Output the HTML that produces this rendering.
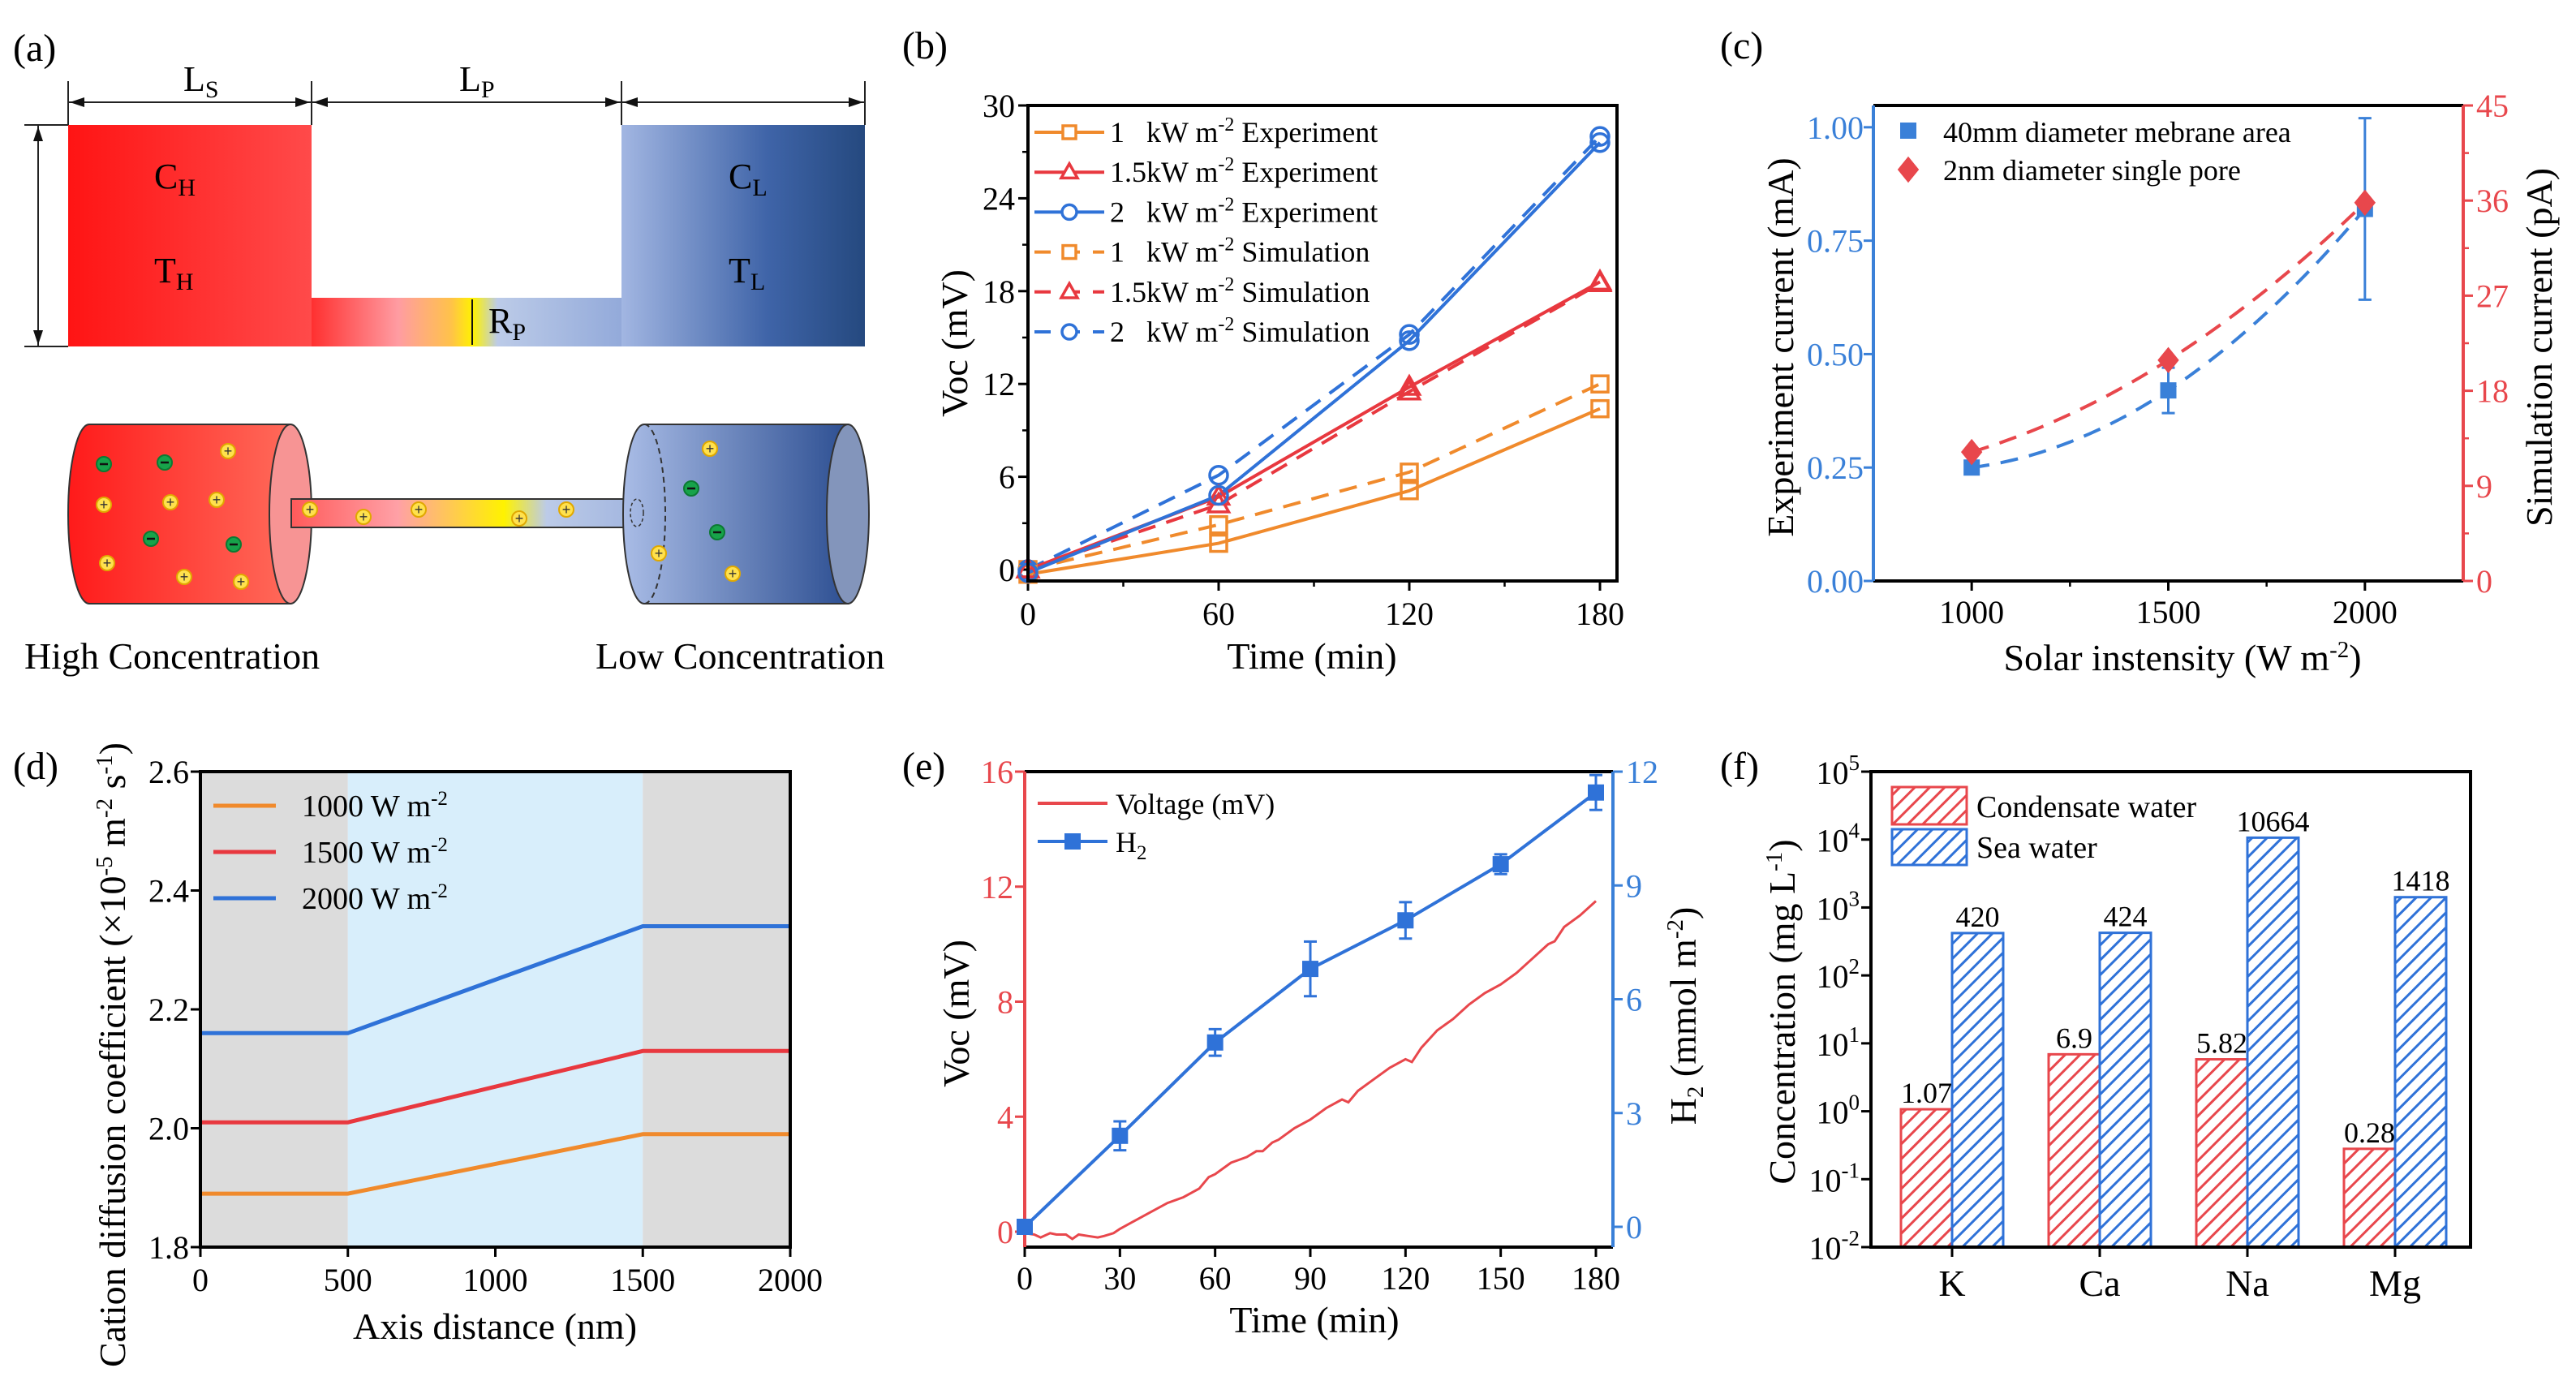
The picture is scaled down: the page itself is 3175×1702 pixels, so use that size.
<!DOCTYPE html>
<html><head><meta charset="utf-8"><style>
html,body{margin:0;padding:0;background:#fff;}
svg{display:block;font-family:"Liberation Serif",serif;}
</style></head><body>
<svg id="fig" width="3175" height="1702" viewBox="0 0 3175 1702" xmlns="http://www.w3.org/2000/svg">
<defs>
<linearGradient id="gRed" x1="0" x2="1" y1="0" y2="0"><stop offset="0" stop-color="#ff1414"/><stop offset="1" stop-color="#ff4a4a"/></linearGradient>
<linearGradient id="gBlue" x1="0" x2="1" y1="0" y2="0"><stop offset="0" stop-color="#a2b6e2"/><stop offset="0.6" stop-color="#3f64a8"/><stop offset="1" stop-color="#25497f"/></linearGradient>
<linearGradient id="gChan" gradientUnits="userSpaceOnUse" x1="384" x2="766" y1="0" y2="0"><stop offset="0" stop-color="#ff3030"/><stop offset="0.28" stop-color="#ff9ca2"/><stop offset="0.45" stop-color="#ffc24a"/><stop offset="0.52" stop-color="#fff200"/><stop offset="0.6" stop-color="#bccbe8"/><stop offset="1" stop-color="#93aada"/></linearGradient>
<linearGradient id="gTube" gradientUnits="userSpaceOnUse" x1="359" x2="796" y1="0" y2="0"><stop offset="0" stop-color="#ff5a5a"/><stop offset="0.3" stop-color="#ffa0a6"/><stop offset="0.6" stop-color="#fff200"/><stop offset="0.72" stop-color="#bccbe8"/><stop offset="1" stop-color="#9fb3de"/></linearGradient>
<linearGradient id="gCylR" x1="0" x2="1" y1="0" y2="0"><stop offset="0" stop-color="#ff1a1a"/><stop offset="1" stop-color="#ff6a5a"/></linearGradient>
<linearGradient id="gCylB" x1="0" x2="1" y1="0" y2="0"><stop offset="0" stop-color="#a9bce6"/><stop offset="1" stop-color="#2d4f92"/></linearGradient>
<pattern id="hatchR" patternUnits="userSpaceOnUse" width="13" height="13" patternTransform="rotate(45)"><rect width="13" height="13" fill="#fff"/><line x1="2" y1="0" x2="2" y2="13" stroke="#e8474c" stroke-width="3"/></pattern>
<pattern id="hatchB" patternUnits="userSpaceOnUse" width="13" height="13" patternTransform="rotate(45)"><rect width="13" height="13" fill="#fff"/><line x1="2" y1="0" x2="2" y2="13" stroke="#2f72d8" stroke-width="3"/></pattern>
</defs>

<g>
<text x="16" y="75" font-size="48">(a)</text>
<g stroke="#222" stroke-width="2">
<line x1="84" y1="100" x2="84" y2="154"/><line x1="384" y1="100" x2="384" y2="154"/><line x1="766" y1="100" x2="766" y2="154"/><line x1="1066" y1="100" x2="1066" y2="154"/>
<line x1="84" y1="126" x2="1066" y2="126"/>
<line x1="30" y1="154" x2="84" y2="154"/><line x1="30" y1="427" x2="84" y2="427"/><line x1="47" y1="154" x2="47" y2="427"/>
<line x1="582" y1="369" x2="582" y2="425"/>
</g>
<g fill="#111">
<polygon points="86,126 104,120 104,132"/><polygon points="382,126 364,120 364,132"/><polygon points="386,126 404,120 404,132"/><polygon points="764,126 746,120 746,132"/><polygon points="768,126 786,120 786,132"/><polygon points="1064,126 1046,120 1046,132"/>
<polygon points="47,156 41,174 53,174"/><polygon points="47,425 41,407 53,407"/>
<polygon points="582,369 577,381 587,381"/><polygon points="582,425 577,413 587,413"/>
</g>
<text x="226" y="112" font-size="44">L<tspan dy="8" font-size="30">S</tspan></text>
<text x="566" y="112" font-size="44">L<tspan dy="8" font-size="30">P</tspan></text>
<rect x="84" y="154" width="300" height="273" fill="url(#gRed)"/>
<rect x="384" y="367" width="382" height="60" fill="url(#gChan)"/>
<rect x="766" y="154" width="300" height="273" fill="url(#gBlue)"/>
<line x1="582" y1="369" x2="582" y2="425" stroke="#111" stroke-width="2"/>
<text x="190" y="232" font-size="44">C<tspan dy="9" font-size="30">H</tspan></text>
<text x="190" y="348" font-size="44">T<tspan dy="9" font-size="30">H</tspan></text>
<text x="898" y="232" font-size="44">C<tspan dy="9" font-size="30">L</tspan></text>
<text x="898" y="348" font-size="44">T<tspan dy="9" font-size="30">L</tspan></text>
<text x="602" y="410" font-size="44">R<tspan dy="9" font-size="30">P</tspan></text>
<path d="M110,523 L358,523 L358,744 L110,744 A26,110.5 0 0 1 110,523 Z" fill="url(#gCylR)" stroke="#333" stroke-width="2"/>
<ellipse cx="358" cy="633.5" rx="26" ry="110.5" fill="#f79494" stroke="#333" stroke-width="2"/>
<rect x="359" y="615" width="437" height="35" fill="url(#gTube)" stroke="#333" stroke-width="2"/>
<path d="M794,523 L1045,523 L1045,744 L794,744 A26,110.5 0 0 1 794,523 Z" fill="url(#gCylB)" stroke="#333" stroke-width="2"/>
<ellipse cx="1045" cy="633.5" rx="26" ry="110.5" fill="#8395bb" stroke="#333" stroke-width="2"/>
<path d="M794,523 A26,110.5 0 0 1 794,744" fill="none" stroke="#333" stroke-width="2" stroke-dasharray="7,5"/>
<ellipse cx="785" cy="632" rx="8" ry="17" fill="none" stroke="#333" stroke-width="1.5" stroke-dasharray="4,3"/>
<g id="ions"></g>
<text x="30" y="824" font-size="46">High Concentration</text>
<text x="734" y="824" font-size="46">Low Concentration</text>
</g>

<text x="1112" y="72" font-size="48">(b)</text>
<text x="2120" y="72" font-size="48">(c)</text>
<text x="16" y="960" font-size="48">(d)</text>
<text x="1112" y="960" font-size="48">(e)</text>
<text x="2120" y="960" font-size="48">(f)</text>

<g id="pb"></g>
<g id="pc"></g>
<g id="pd"></g>
<g id="pe"></g>
<g id="pf"></g>
</svg>
<script>
const bTimes=[0,60,120,180];
const bExp1=[-0.3,1.7,5.1,10.4];
const bExp15=[0,4.7,11.8,18.6];
const bExp2=[-0.2,4.8,14.8,27.6];
const bSim1=[0,2.9,6.3,12.0];
const bSim15=[0,4.2,11.5,18.5];
const bSim2=[0,6.1,15.2,28.0];
const bYTicks=[0,6,12,18,24,30];
const bXTicks=[0,60,120,180];

const cX=[1000,1500,2000];
const cExp=[0.25,0.42,0.82];
const cErr=[0.01,0.05,0.2];
const cSim=[12.2,20.9,35.8];
const cLeftTicks=[0,0.25,0.5,0.75,1.0];
const cRightTicks=[0,9,18,27,36,45];
const cXTicks=[1000,1500,2000];

const dX=[0,500,1500,2000];
const d1000=[1.89,1.89,1.99,1.99];
const d1500=[2.01,2.01,2.13,2.13];
const d2000=[2.16,2.16,2.34,2.34];
const dYTicks=[1.8,2.0,2.2,2.4,2.6];
const dXTicks=[0,500,1000,1500,2000];

const eVt=[0,3,5,8,10,13,15,17,20,23,25,28,30,35,40,45,50,55,58,60,65,70,73,75,78,80,85,90,95,100,102,105,110,115,120,122,125,130,135,140,145,150,155,160,165,167,170,175,180];
const eVv=[-0.05,-0.1,-0.2,-0.05,-0.1,-0.1,-0.25,-0.1,-0.15,-0.2,-0.15,-0.05,0.1,0.4,0.7,1.0,1.2,1.5,1.9,2.0,2.4,2.6,2.8,2.8,3.1,3.2,3.6,3.9,4.3,4.6,4.5,4.9,5.3,5.7,6.0,5.9,6.4,7.0,7.4,7.9,8.3,8.6,9.0,9.5,10.0,10.1,10.6,11.0,11.5];
const eHt=[0,30,60,90,120,150,180];
const eH=[0,2.4,4.86,6.8,8.08,9.56,11.45];
const eHerr=[0,0.38,0.35,0.72,0.48,0.26,0.46];
const eLeftTicks=[0,4,8,12,16];
const eRightTicks=[0,3,6,9,12];
const eXTicks=[0,30,60,90,120,150,180];

const fCat=['K','Ca','Na','Mg'];
const fCond=[1.07,6.9,5.82,0.28];
const fSea=[420,424,10664,1418];
const fCondLbl=['1.07','6.9','5.82','0.28'];
const fSeaLbl=['420','424','10664','1418'];
const fExp=[-2,-1,0,1,2,3,4,5];

const NS='http://www.w3.org/2000/svg';
function el(parent,tag,attrs,name){
  const e=document.createElementNS(NS,tag);
  for(const k in attrs) e.setAttribute(k,attrs[k]);
  
  
  parent.appendChild(e);
  return e;
}
function txt(parent,x,y,s,attrs,name){
  const t=el(parent,'text',Object.assign({x:x,y:y},attrs),name);
  t.textContent=s;
  return t;
}
function lin(d0,d1,r0,r1){return v=>r0+(v-d0)*(r1-r0)/(d1-d0);}
function poly(xs,ys,sx,sy){return xs.map((x,i)=>sx(x).toFixed(1)+','+sy(ys[i]).toFixed(1)).join(' ');}
function marker(g,type,x,y,color,fill,size,name){
  if(type==='square') return el(g,'rect',{x:x-size,y:y-size,width:2*size,height:2*size,fill:fill,stroke:color,'stroke-width':3.5},name);
  if(type==='circle') return el(g,'circle',{cx:x,cy:y,r:size+1,fill:fill,stroke:color,'stroke-width':3.5},name);
  if(type==='triangle') return el(g,'polygon',{points:(x)+','+(y-size*1.3)+' '+(x-size*1.25)+','+(y+size*0.9)+' '+(x+size*1.25)+','+(y+size*0.9),fill:fill,stroke:color,'stroke-width':3.5},name);
  if(type==='diamond') return el(g,'polygon',{points:x+','+(y-size*1.35)+' '+(x+size*1.1)+','+y+' '+x+','+(y+size*1.35)+' '+(x-size*1.1)+','+y,fill:fill,stroke:'none'},name);
}

const TICK=40, TITLE=46, LEG=36;

const ionsG=document.getElementById('ions');
const plusPos=[[281,556],[128,622],[210,619],[267,616],[132,694],[227,711],[297,717],[382,628],[448,637],[516,628],[640,639],[698,628],[875,553],[812,682],[903,707]];
const minusPos=[[128,572],[203,570],[186,664],[288,671],[852,602],[884,656]];
plusPos.forEach(p=>{
  el(ionsG,'circle',{cx:p[0],cy:p[1],r:9,fill:'#ffe14d',stroke:'#e0a800','stroke-width':2},'cation');
  txt(ionsG,p[0],p[1]+6,'+',{'font-size':18,'text-anchor':'middle','font-family':'Liberation Sans, sans-serif',fill:'#333'},'cation-sign');
});
minusPos.forEach(p=>{
  el(ionsG,'circle',{cx:p[0],cy:p[1],r:9,fill:'#17a34a',stroke:'#0c7a33','stroke-width':2},'anion');
  el(ionsG,'line',{x1:p[0]-5,y1:p[1],x2:p[0]+5,y2:p[1],stroke:'#111','stroke-width':2.5},'anion-sign');
});

const ORANGE='#f08a2c', RED='#e8383f', BLUE='#2f72d8';

(function(){
  const g=document.getElementById('pb');
  const L=1267,R=1993,T=130,B=716;
  const sx=lin(0,180,1267,1972), sy=lin(0,30,702,130);
  bYTicks.forEach(v=>{
    el(g,'line',{x1:L-12,y1:sy(v),x2:L,y2:sy(v),stroke:'#000','stroke-width':3},'y-tick');
    txt(g,L-16,sy(v)+14,String(v),{'font-size':TICK,'text-anchor':'end'},'y-tick-label');
  });
  [3,9,15,21,27].forEach(v=>{ el(g,'line',{x1:L-7,y1:sy(v),x2:L,y2:sy(v),stroke:'#000','stroke-width':2.5},'y-minor-tick'); });
  bXTicks.forEach(v=>{
    el(g,'line',{x1:sx(v),y1:B,x2:sx(v),y2:B+12,stroke:'#000','stroke-width':3},'x-tick');
    txt(g,sx(v),B+54,String(v),{'font-size':TICK,'text-anchor':'middle'},'x-tick-label');
  });
  [30,90,150].forEach(v=>{ el(g,'line',{x1:sx(v),y1:B,x2:sx(v),y2:B+7,stroke:'#000','stroke-width':2.5},'x-minor-tick'); });
  const series=[
    {y:bSim1,c:ORANGE,m:'square',d:'22,14',n:'1kw-simulation'},
    {y:bSim15,c:RED,m:'triangle',d:'22,14',n:'1.5kw-simulation'},
    {y:bSim2,c:BLUE,m:'circle',d:'22,14',n:'2kw-simulation'},
    {y:bExp1,c:ORANGE,m:'square',d:null,n:'1kw-experiment'},
    {y:bExp15,c:RED,m:'triangle',d:null,n:'1.5kw-experiment'},
    {y:bExp2,c:BLUE,m:'circle',d:null,n:'2kw-experiment'}
  ];
  series.forEach(s=>{
    const a={points:poly(bTimes,s.y,sx,sy),fill:'none',stroke:s.c,'stroke-width':4};
    if(s.d) a['stroke-dasharray']=s.d;
    el(g,'polyline',a,s.n+'-line');
  });
  series.forEach(s=>{
    bTimes.forEach((t,i)=>{ marker(g,s.m,sx(t),sy(s.y[i]),s.c,'none',10,s.n+'-point'); });
  });
  el(g,'rect',{x:L,y:T,width:R-L,height:B-T,fill:'none',stroke:'#000','stroke-width':4},'plot-frame');
  const leg=[['1','Experiment',ORANGE,'square',false],['1.5','Experiment',RED,'triangle',false],['2','Experiment',BLUE,'circle',false],['1','Simulation',ORANGE,'square',true],['1.5','Simulation',RED,'triangle',true],['2','Simulation',BLUE,'circle',true]];
  leg.forEach((l,i)=>{
    const y=163+i*49.2;
    const a={x1:1275,y1:y,x2:1361,y2:y,stroke:l[2],'stroke-width':4};
    if(l[4]) a['stroke-dasharray']='20,16';
    el(g,'line',a,'legend-line');
    marker(g,l[3],1318,y,l[2],'#fff',8,'legend-marker');
    const t=el(g,'text',{x:1368,y:y+12,'font-size':LEG},'legend-entry');
    t.innerHTML=(l[0]==='1.5'?'1.5kW':l[0]+'&#160;&#160;&#160;kW')+' m<tspan dy="-14" font-size="24">-2</tspan><tspan dy="14"> '+l[1]+'</tspan>';
  });
  txt(g,0,0,'Voc (mV)',{'font-size':TITLE,'text-anchor':'middle',transform:'translate(1192,423) rotate(-90)'},'y-axis-title');
  txt(g,1617,824,'Time  (min)',{'font-size':TITLE,'text-anchor':'middle'},'x-axis-title');
})();

(function(){
  const g=document.getElementById('pc');
  const L=2309,R=3036,T=130,B=716;
  const sx=lin(750,2250,L,R), syL=lin(0,1.048,B,T), syR=lin(0,45,B,T);
  const CB='#3a80d8', CR='#e8474c';
  el(g,'line',{x1:L,y1:T,x2:R,y2:T,stroke:'#000','stroke-width':4},'top-axis');
  el(g,'line',{x1:L,y1:B,x2:R,y2:B,stroke:'#000','stroke-width':4},'x-axis');
  el(g,'line',{x1:L,y1:T,x2:L,y2:B,stroke:CB,'stroke-width':4},'left-y-axis');
  el(g,'line',{x1:R,y1:T,x2:R,y2:B,stroke:CR,'stroke-width':4},'right-y-axis');
  cLeftTicks.forEach(v=>{
    el(g,'line',{x1:L-12,y1:syL(v),x2:L,y2:syL(v),stroke:CB,'stroke-width':3},'left-y-tick');
    txt(g,L-12,syL(v)+14,v.toFixed(2),{'font-size':TICK,'text-anchor':'end',fill:CB},'left-y-tick-label');
  });
  cRightTicks.forEach(v=>{
    el(g,'line',{x1:R,y1:syR(v),x2:R+12,y2:syR(v),stroke:CR,'stroke-width':3},'right-y-tick');
    txt(g,R+16,syR(v)+14,String(v),{'font-size':TICK,fill:CR},'right-y-tick-label');
  });
  [4.5,13.5,22.5,31.5,40.5].forEach(v=>{ el(g,'line',{x1:R,y1:syR(v),x2:R+7,y2:syR(v),stroke:CR,'stroke-width':2.5},'right-y-minor-tick'); });
  cXTicks.forEach(v=>{
    el(g,'line',{x1:sx(v),y1:B,x2:sx(v),y2:B+12,stroke:'#000','stroke-width':3},'x-tick');
    txt(g,sx(v),B+52,String(v),{'font-size':TICK,'text-anchor':'middle'},'x-tick-label');
  });
  [1250,1750].forEach(v=>{ el(g,'line',{x1:sx(v),y1:B,x2:sx(v),y2:B+7,stroke:'#000','stroke-width':2.5},'x-minor-tick'); });
  function quadPath(xs,ys,sy){
    const pts=[];
    for(let k=0;k<=40;k++){
      const x=xs[0]+(xs[2]-xs[0])*k/40;
      let y=0;
      for(let i=0;i<3;i++){let p=ys[i];for(let j=0;j<3;j++) if(j!==i) p*=(x-xs[j])/(xs[i]-xs[j]); y+=p;}
      pts.push(sx(x).toFixed(1)+','+sy(y).toFixed(1));
    }
    return pts.join(' ');
  }
  el(g,'polyline',{points:quadPath(cX,cExp,syL),fill:'none',stroke:CB,'stroke-width':4,'stroke-dasharray':'22,14'},'experiment-fit-line');
  el(g,'polyline',{points:quadPath(cX,cSim,syR),fill:'none',stroke:CR,'stroke-width':4,'stroke-dasharray':'22,14'},'simulation-fit-line');
  cX.forEach((x,i)=>{
    const e=cErr[i];
    el(g,'line',{x1:sx(x),y1:syL(cExp[i]-e),x2:sx(x),y2:syL(cExp[i]+e),stroke:CB,'stroke-width':3},'error-bar');
    el(g,'line',{x1:sx(x)-8,y1:syL(cExp[i]-e),x2:sx(x)+8,y2:syL(cExp[i]-e),stroke:CB,'stroke-width':3},'error-cap');
    el(g,'line',{x1:sx(x)-8,y1:syL(cExp[i]+e),x2:sx(x)+8,y2:syL(cExp[i]+e),stroke:CB,'stroke-width':3},'error-cap');
    el(g,'rect',{x:sx(x)-10,y:syL(cExp[i])-10,width:20,height:20,fill:CB},'experiment-point');
    marker(g,'diamond',sx(x),syR(cSim[i]),CR,CR,12,'simulation-point');
  });
  el(g,'rect',{x:2342,y:151,width:20,height:20,fill:CB},'legend-marker-experiment');
  txt(g,2395,175,'40mm diameter mebrane area',{'font-size':LEG},'legend-entry');
  marker(g,'diamond',2352,209,CR,CR,12,'legend-marker-simulation');
  txt(g,2395,222,'2nm diameter single pore',{'font-size':LEG},'legend-entry');
  txt(g,0,0,'Experiment current (mA)',{'font-size':TITLE,'text-anchor':'middle',transform:'translate(2210,428) rotate(-90)'},'left-y-axis-title');
  txt(g,0,0,'Simulation current (pA)',{'font-size':TITLE,'text-anchor':'middle',transform:'translate(3145,428) rotate(-90)'},'right-y-axis-title');
  const xt=el(g,'text',{x:2690,y:826,'font-size':TITLE,'text-anchor':'middle'},'x-axis-title');
  xt.innerHTML='Solar instensity (W m<tspan dy="-16" font-size="29">-2</tspan><tspan dy="16">)</tspan>';
})();

(function(){
  const g=document.getElementById('pd');
  const L=247,R=974,T=951,B=1537;
  const sx=lin(0,2000,L,R), sy=lin(1.8,2.6,B,T);
  el(g,'rect',{x:sx(0),y:T,width:sx(500)-sx(0),height:B-T,fill:'#dcdcdc'},'solution-region-left');
  el(g,'rect',{x:sx(500),y:T,width:sx(1500)-sx(500),height:B-T,fill:'#d8eefb'},'pore-region');
  el(g,'rect',{x:sx(1500),y:T,width:sx(2000)-sx(1500),height:B-T,fill:'#dcdcdc'},'solution-region-right');
  dYTicks.forEach(v=>{
    el(g,'line',{x1:L-12,y1:sy(v),x2:L,y2:sy(v),stroke:'#000','stroke-width':3},'y-tick');
    txt(g,L-14,sy(v)+14,v.toFixed(1),{'font-size':TICK,'text-anchor':'end'},'y-tick-label');
  });
  dXTicks.forEach(v=>{
    el(g,'line',{x1:sx(v),y1:B,x2:sx(v),y2:B+12,stroke:'#000','stroke-width':3},'x-tick');
    txt(g,sx(v),B+54,String(v),{'font-size':TICK,'text-anchor':'middle'},'x-tick-label');
  });
  el(g,'polyline',{points:poly(dX,d1000,sx,sy),fill:'none',stroke:ORANGE,'stroke-width':5},'line-1000');
  el(g,'polyline',{points:poly(dX,d1500,sx,sy),fill:'none',stroke:RED,'stroke-width':5},'line-1500');
  el(g,'polyline',{points:poly(dX,d2000,sx,sy),fill:'none',stroke:BLUE,'stroke-width':5},'line-2000');
  el(g,'rect',{x:L,y:T,width:R-L,height:B-T,fill:'none',stroke:'#000','stroke-width':4},'plot-frame');
  [['1000',ORANGE,993],['1500',RED,1050],['2000',BLUE,1107]].forEach(l=>{
    el(g,'line',{x1:263,y1:l[2],x2:340,y2:l[2],stroke:l[1],'stroke-width':5},'legend-line');
    const t=el(g,'text',{x:372,y:l[2]+13,'font-size':38},'legend-entry');
    t.innerHTML=l[0]+' W m<tspan dy="-14" font-size="25">-2</tspan>';
  });
  const yt=el(g,'text',{'font-size':TITLE,'text-anchor':'middle',transform:'translate(154,1300) rotate(-90)',x:0,y:0},'y-axis-title');
  yt.innerHTML='Cation diffusion coefficient (×10<tspan dy="-16" font-size="29">-5</tspan><tspan dy="16"> m</tspan><tspan dy="-16" font-size="29">-2</tspan><tspan dy="16"> s</tspan><tspan dy="-16" font-size="29">-1</tspan><tspan dy="16">)</tspan>';
  txt(g,610,1650,'Axis distance (nm)',{'font-size':TITLE,'text-anchor':'middle'},'x-axis-title');
})();

(function(){
  const g=document.getElementById('pe');
  const L=1263,R=1988,T=951,B=1537;
  const CB='#3a80d8', CR='#e8474c';
  const sx=lin(0,180,1263,1967), syL=lin(0,16,1518,951), syR=lin(0,12,1512,951);
  el(g,'line',{x1:L,y1:T,x2:R,y2:T,stroke:'#000','stroke-width':4},'top-axis');
  el(g,'line',{x1:L,y1:B,x2:R,y2:B,stroke:'#000','stroke-width':4},'x-axis');
  el(g,'line',{x1:L,y1:T,x2:L,y2:B,stroke:CR,'stroke-width':4},'left-y-axis');
  el(g,'line',{x1:R,y1:T,x2:R,y2:B,stroke:CB,'stroke-width':4},'right-y-axis');
  eLeftTicks.forEach(v=>{
    el(g,'line',{x1:L-12,y1:syL(v),x2:L,y2:syL(v),stroke:CR,'stroke-width':3},'left-y-tick');
    txt(g,L-14,syL(v)+14,String(v),{'font-size':TICK,'text-anchor':'end',fill:CR},'left-y-tick-label');
  });
  eRightTicks.forEach(v=>{
    el(g,'line',{x1:R,y1:syR(v),x2:R+12,y2:syR(v),stroke:CB,'stroke-width':3},'right-y-tick');
    txt(g,R+16,syR(v)+14,String(v),{'font-size':TICK,fill:CB},'right-y-tick-label');
  });
  eXTicks.forEach(v=>{
    el(g,'line',{x1:sx(v),y1:B,x2:sx(v),y2:B+12,stroke:'#000','stroke-width':3},'x-tick');
    txt(g,sx(v),B+52,String(v),{'font-size':TICK,'text-anchor':'middle'},'x-tick-label');
  });
  el(g,'polyline',{points:poly(eVt,eVv,sx,syL),fill:'none',stroke:CR,'stroke-width':3},'voltage-line');
  el(g,'polyline',{points:poly(eHt,eH,sx,syR),fill:'none',stroke:'#2f72d8','stroke-width':4},'h2-line');
  eHt.forEach((t,i)=>{
    const x=sx(t), e=eHerr[i];
    if(e>0){
      el(g,'line',{x1:x,y1:syR(eH[i]-e),x2:x,y2:syR(eH[i]+e),stroke:'#2f72d8','stroke-width':3},'h2-error-bar');
      el(g,'line',{x1:x-8,y1:syR(eH[i]-e),x2:x+8,y2:syR(eH[i]-e),stroke:'#2f72d8','stroke-width':3},'h2-error-cap');
      el(g,'line',{x1:x-8,y1:syR(eH[i]+e),x2:x+8,y2:syR(eH[i]+e),stroke:'#2f72d8','stroke-width':3},'h2-error-cap');
    }
    el(g,'rect',{x:x-10,y:syR(eH[i])-10,width:20,height:20,fill:'#2f72d8'},'h2-point');
  });
  el(g,'line',{x1:1279,y1:990,x2:1365,y2:990,stroke:CR,'stroke-width':4},'legend-line-voltage');
  txt(g,1375,1003,'Voltage (mV)',{'font-size':LEG},'legend-entry');
  el(g,'line',{x1:1279,y1:1037,x2:1365,y2:1037,stroke:'#2f72d8','stroke-width':4},'legend-line-h2');
  el(g,'rect',{x:1312,y:1027,width:20,height:20,fill:'#2f72d8'},'legend-marker-h2');
  const lt=el(g,'text',{x:1375,y:1050,'font-size':LEG},'legend-entry');
  lt.innerHTML='H<tspan dy="9" font-size="25">2</tspan>';
  txt(g,0,0,'Voc (mV)',{'font-size':TITLE,'text-anchor':'middle',transform:'translate(1194,1249) rotate(-90)'},'left-y-axis-title');
  const rt=el(g,'text',{x:0,y:0,'font-size':TITLE,'text-anchor':'middle',transform:'translate(2090,1252) rotate(-90)'},'right-y-axis-title');
  rt.innerHTML='H<tspan dy="9" font-size="29">2</tspan><tspan dy="-9"> (mmol m</tspan><tspan dy="-16" font-size="29">-2</tspan><tspan dy="16">)</tspan>';
  txt(g,1620,1642,'Time (min)',{'font-size':TITLE,'text-anchor':'middle'},'x-axis-title');
})();

(function(){
  const g=document.getElementById('pf');
  const L=2306,R=3045,T=951,B=1537;
  const dec=(B-T)/7;
  const sy=v=>B-(Math.log10(v)+2)*dec;
  const cx=i=>2406+i*182;
  const bw=63;
  fExp.forEach(p=>{
    const y=B-(p+2)*dec;
    el(g,'line',{x1:L-12,y1:y,x2:L,y2:y,stroke:'#000','stroke-width':3},'y-tick');
    const t=el(g,'text',{x:L-14,y:y+15,'font-size':TICK,'text-anchor':'end'},'y-tick-label');
    t.innerHTML='10<tspan dy="-17" font-size="27">'+p+'</tspan>';
  });
  fCat.forEach((c,i)=>{
    el(g,'rect',{x:cx(i)-bw,y:sy(fCond[i]),width:bw,height:B-sy(fCond[i]),fill:'url(#hatchR)',stroke:'#e8474c','stroke-width':3},'bar-condensate-'+c);
    el(g,'rect',{x:cx(i),y:sy(fSea[i]),width:bw,height:B-sy(fSea[i]),fill:'url(#hatchB)',stroke:'#2f72d8','stroke-width':3},'bar-sea-'+c);
    txt(g,cx(i)-bw/2,sy(fCond[i])-8,fCondLbl[i],{'font-size':LEG,'text-anchor':'middle'},'value-label-condensate');
    txt(g,cx(i)+bw/2,sy(fSea[i])-8,fSeaLbl[i],{'font-size':LEG,'text-anchor':'middle'},'value-label-sea');
    el(g,'line',{x1:cx(i),y1:B,x2:cx(i),y2:B+12,stroke:'#000','stroke-width':3},'x-tick');
    txt(g,cx(i),B+60,c,{'font-size':TITLE,'text-anchor':'middle'},'category-label');
  });
  el(g,'rect',{x:L,y:T,width:R-L,height:B-T,fill:'none',stroke:'#000','stroke-width':4},'plot-frame');
  el(g,'rect',{x:2332,y:970,width:92,height:46,fill:'url(#hatchR)',stroke:'#e8474c','stroke-width':3},'legend-swatch-condensate');
  txt(g,2436,1007,'Condensate water',{'font-size':38},'legend-entry');
  el(g,'rect',{x:2332,y:1022,width:92,height:44,fill:'url(#hatchB)',stroke:'#2f72d8','stroke-width':3},'legend-swatch-sea');
  txt(g,2436,1057,'Sea water',{'font-size':38},'legend-entry');
  const yt=el(g,'text',{x:0,y:0,'font-size':TITLE,'text-anchor':'middle',transform:'translate(2212,1247) rotate(-90)'},'y-axis-title');
  yt.innerHTML='Concentration (mg L<tspan dy="-16" font-size="29">-1</tspan><tspan dy="16">)</tspan>';
})();
</script>
</body></html>
